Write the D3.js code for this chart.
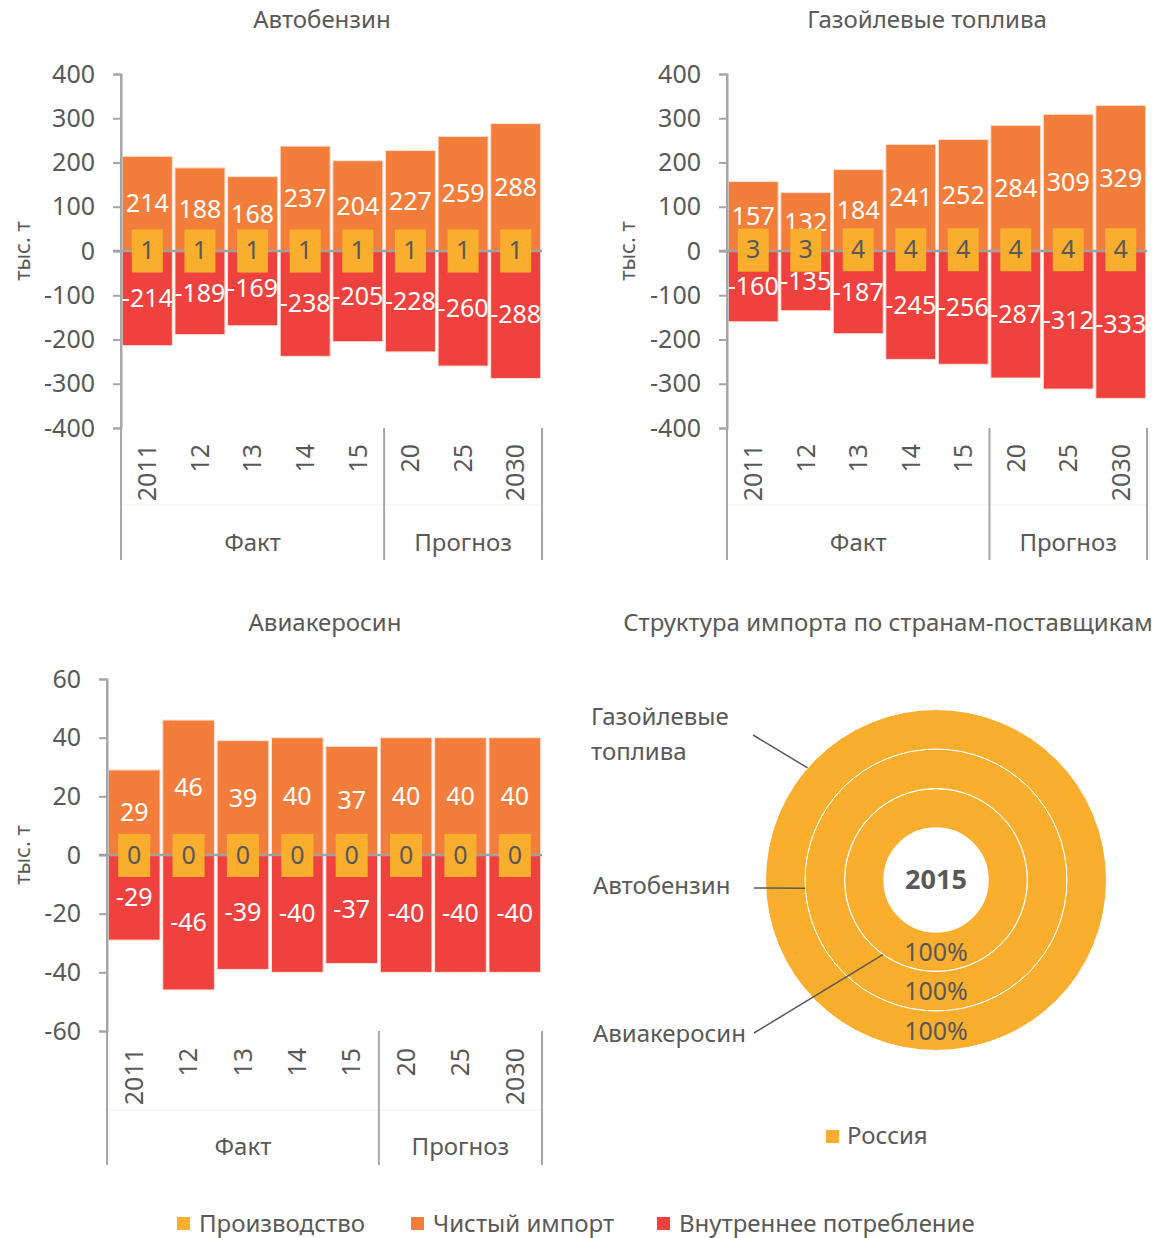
<!DOCTYPE html>
<html lang="ru">
<head>
<meta charset="utf-8">
<title>Импорт нефтепродуктов</title>
<style>
body { margin: 0; background: #fff; }
svg text { font-family: "Noto Sans", sans-serif; fill: #595959; }
.title { font-size: 24px; text-anchor: middle; }
.tick text { font-size: 25px; fill: #595959; }
.barLabel { font-size: 25px; fill: #fff; text-anchor: middle; }
.prodLabel { font-size: 25px; fill: #595959; text-anchor: middle; }
.catLabel { font-size: 25px; }
.groupLabel { font-size: 24px; }
.legend { font-size: 24px; }
</style>
</head>
<body>
<div id="chart"></div>
<script src="https://d3js.org/d3.v7.min.js"></script>
<script>
// categories
var years = ['2011', '12', '13', '14', '15', '20', '25', '2030'];
var groupNames = ['Факт', 'Прогноз'];
var groupSizes = [5, 3];

// Автобензин
var gasProd = [1, 1, 1, 1, 1, 1, 1, 1];
var gasImport = [214, 188, 168, 237, 204, 227, 259, 288];
var gasCons = [-214, -189, -169, -238, -205, -228, -260, -288];

// Газойлевые топлива
var dieselProd = [3, 3, 4, 4, 4, 4, 4, 4];
var dieselImport = [157, 132, 184, 241, 252, 284, 309, 329];
var dieselCons = [-160, -135, -187, -245, -256, -287, -312, -333];

// Авиакеросин
var jetProd = [0, 0, 0, 0, 0, 0, 0, 0];
var jetImport = [29, 46, 39, 40, 37, 40, 40, 40];
var jetCons = [-29, -46, -39, -40, -37, -40, -40, -40];

var bigTicks = [-400, -300, -200, -100, 0, 100, 200, 300, 400];
var jetTicks = [-60, -40, -20, 0, 20, 40, 60];

// donut: rings from inner to outer
var ringNames = ['Авиакеросин', 'Автобензин', 'Газойлевые топлива'];
var countries = ['Россия'];
var ringShares = [[100], [100], [100]];

var seriesNames = ['Производство', 'Чистый импорт', 'Внутреннее потребление'];
var colProd = '#f9ae2d', colImport = '#f37e3c', colCons = '#ef423f';
var gray = '#595959', axisGray = '#a6a6a6';

var svg = d3.select('#chart').append('svg')
  .attr('width', 1164).attr('height', 1238);

function drawBars(o) {
  var g = svg.append('g');
  var y = d3.scaleLinear().domain(o.domain).range([o.bottom, o.top]);
  var x = d3.scaleBand().domain(years).range([o.left, o.right])
    .paddingInner(0.05).paddingOuter(0.025);

  g.append('text').attr('class', 'title')
    .attr('x', o.titleX).attr('y', o.titleY).attr('dy', '0.35em').text(o.title);

  g.append('text')
    .attr('transform', 'translate(' + o.yTitleX + ',' + y(0) + ') rotate(-90)')
    .attr('text-anchor', 'middle').attr('dy', '0.35em')
    .style('font-size', '22px').text('тыс. т');

  // bars
  g.selectAll('.imp').data(o.imp).enter().append('rect')
    .attr('x', function(d, i) { return x(years[i]); })
    .attr('width', x.bandwidth())
    .attr('y', function(d) { return y(d); })
    .attr('height', function(d) { return y(0) - y(d); })
    .attr('fill', colImport).attr('stroke', '#fde0d4').attr('stroke-width', 1);
  g.selectAll('.cons').data(o.cons).enter().append('rect')
    .attr('x', function(d, i) { return x(years[i]); })
    .attr('width', x.bandwidth())
    .attr('y', y(0))
    .attr('height', function(d) { return y(d) - y(0); })
    .attr('fill', colCons).attr('stroke', '#fde0d4').attr('stroke-width', 1);

  // y axis (plain hyphen minus, as in the original)
  var ax = g.append('g').attr('transform', 'translate(' + o.left + ',0)')
    .call(d3.axisLeft(y).tickValues(o.ticks).tickSize(8).tickPadding(18)
      .tickFormat(function(d) { return String(d); }));
  ax.select('.domain').attr('stroke', axisGray).attr('stroke-width', 2);
  ax.selectAll('.tick line').attr('stroke', axisGray).attr('stroke-width', 2);

  // zero line
  g.append('line').attr('x1', o.left - 8).attr('x2', o.right)
    .attr('y1', y(0)).attr('y2', y(0))
    .attr('stroke', '#a0a0a0').attr('stroke-width', 2.5);

  // labels on bars
  g.selectAll('.impL').data(o.imp).enter().append('text').attr('class', 'barLabel')
    .attr('x', function(d, i) { return x(years[i]) + x.bandwidth() / 2; })
    .attr('y', function(d) { return (y(d) + y(0)) / 2; })
    .attr('dy', '0.35em').text(function(d) { return d; });
  g.selectAll('.consL').data(o.cons).enter().append('text').attr('class', 'barLabel')
    .attr('x', function(d, i) { return x(years[i]) + x.bandwidth() / 2; })
    .attr('y', function(d) { return (y(d) + y(0)) / 2; })
    .attr('dy', '0.35em').text(function(d) { return d; });

  // production: value is tiny, shown as a filled label box at zero
  var bw = x.bandwidth() * 0.62;
  g.selectAll('.prod').data(o.prod).enter().append('rect')
    .attr('x', function(d, i) { return x(years[i]) + (x.bandwidth() - bw) / 2; })
    .attr('y', function(d) { return y(d) - 21; })
    .attr('width', bw).attr('height', 43)
    .attr('fill', colProd);
  g.selectAll('.prodL').data(o.prod).enter().append('text').attr('class', 'prodLabel')
    .attr('x', function(d, i) { return x(years[i]) + x.bandwidth() / 2; })
    .attr('y', function(d) { return y(d); })
    .attr('dy', '0.35em').text(function(d) { return d; });

  // category axis
  g.selectAll('.cat').data(years).enter().append('text').attr('class', 'catLabel')
    .attr('transform', function(d) {
      return 'translate(' + (x(d) + x.bandwidth() / 2) + ',' + o.catY + ') rotate(-90)';
    })
    .attr('text-anchor', 'end').attr('dy', '0.35em').text(function(d) { return d; });

  g.append('line').attr('x1', o.left).attr('x2', o.right)
    .attr('y1', o.midLineY).attr('y2', o.midLineY)
    .attr('stroke', '#f2f2f2').attr('stroke-width', 1);

  var idx = 0;
  var seps = [0];
  groupSizes.forEach(function(n) { idx += n; seps.push(idx); });
  var step = x.step();
  var sepX = seps.map(function(k) {
    return k === 0 ? o.left : (k === years.length ? o.right : x(years[k]) - step * 0.025);
  });
  sepX.forEach(function(sx, i) {
    g.append('line').attr('x1', sx).attr('x2', sx)
      .attr('y1', i === 0 ? o.top : o.bottom).attr('y2', o.sepBottom)
      .attr('stroke', axisGray).attr('stroke-width', 2);
  });
  groupNames.forEach(function(name, i) {
    g.append('text').attr('class', 'groupLabel')
      .attr('x', (sepX[i] + sepX[i + 1]) / 2).attr('y', o.groupY)
      .attr('text-anchor', 'middle').attr('dy', '0.35em').text(name);
  });
}

drawBars({ title: 'Автобензин', titleX: 322, titleY: 20, yTitleX: 22,
  left: 121, right: 542, top: 74, bottom: 428, domain: [-400, 400], ticks: bigTicks,
  prod: gasProd, imp: gasImport, cons: gasCons,
  catY: 444, midLineY: 505, sepBottom: 560, groupY: 543 });

drawBars({ title: 'Газойлевые топлива', titleX: 927, titleY: 20, yTitleX: 627,
  left: 727, right: 1147, top: 74, bottom: 428, domain: [-400, 400], ticks: bigTicks,
  prod: dieselProd, imp: dieselImport, cons: dieselCons,
  catY: 444, midLineY: 505, sepBottom: 560, groupY: 543 });

drawBars({ title: 'Авиакеросин', titleX: 325, titleY: 623, yTitleX: 22,
  left: 107, right: 542, top: 679, bottom: 1031, domain: [-60, 60], ticks: jetTicks,
  prod: jetProd, imp: jetImport, cons: jetCons,
  catY: 1048, midLineY: 1110, sepBottom: 1165, groupY: 1147 });

// donut chart
var cx = 936, cy = 880, hole = 52, ringW = 39.5;
var dg = svg.append('g');
dg.append('text').attr('class', 'title').attr('x', 888).attr('y', 623)
  .attr('dy', '0.35em').text('Структура импорта по странам-поставщикам');

var pie = d3.pie().sort(null);
ringShares.forEach(function(vals, r) {
  var arc = d3.arc().innerRadius(hole + r * ringW).outerRadius(hole + (r + 1) * ringW);
  var rg = dg.append('g').attr('transform', 'translate(' + cx + ',' + cy + ')');
  rg.selectAll('path').data(pie(vals)).enter().append('path')
    .attr('d', arc).attr('fill', colProd)
    .attr('stroke', '#fff').attr('stroke-width', r === 0 ? 1.5 : 1);
  rg.selectAll('text').data(pie(vals)).enter().append('text')
    .attr('x', function(d) { return arc.centroid(d)[0]; })
    .attr('y', function(d) { return arc.centroid(d)[1]; })
    .attr('dy', '0.35em').attr('text-anchor', 'middle').style('font-size', '25px')
    .text(function(d) { return d.data + '%'; });
});
dg.append('text').attr('x', cx).attr('y', cy).attr('dy', '0.35em')
  .attr('text-anchor', 'middle').style('font-size', '27px').style('font-weight', 'bold')
  .text('2015');

// leader lines for ring names (ring index: 0 inner .. 2 outer)
var leaders = [
  { ring: 2, lines: ['Газойлевые', 'топлива'], tx: 591, ty: 717, lx: 753, ly: 735 },
  { ring: 1, lines: ['Автобензин'], tx: 593, ty: 886, lx: 754, ly: 888 },
  { ring: 0, lines: ['Авиакеросин'], tx: 593, ty: 1034, lx: 754, ly: 1033 }
];
var leaderAngles = [3.76, 4.65, 5.43];
leaders.forEach(function(l) {
  var rad = hole + (l.ring + 1) * ringW;
  var a = leaderAngles[l.ring];
  var ex = cx + rad * Math.sin(a), ey = cy - rad * Math.cos(a);
  dg.append('line').attr('x1', l.lx).attr('y1', l.ly).attr('x2', ex).attr('y2', ey)
    .attr('stroke', gray).attr('stroke-width', 1.5);
  l.lines.forEach(function(t, i) {
    dg.append('text').attr('class', 'legend').attr('x', l.tx).attr('y', l.ty + i * 35)
      .attr('dy', '0.35em').text(t);
  });
});

// donut legend
dg.append('rect').attr('x', 826).attr('y', 1130).attr('width', 13).attr('height', 13)
  .attr('fill', colProd);
dg.append('text').attr('class', 'legend').attr('x', 847).attr('y', 1136)
  .attr('dy', '0.35em').text(countries[0]);

// bottom legend
var legX = [177, 411, 657];
var legCol = [colProd, colImport, colCons];
seriesNames.forEach(function(n, i) {
  svg.append('rect').attr('x', legX[i]).attr('y', 1217).attr('width', 13).attr('height', 13)
    .attr('fill', legCol[i]);
  svg.append('text').attr('class', 'legend').attr('x', legX[i] + 22).attr('y', 1224)
    .attr('dy', '0.35em').text(n);
});
</script>
</body>
</html>
